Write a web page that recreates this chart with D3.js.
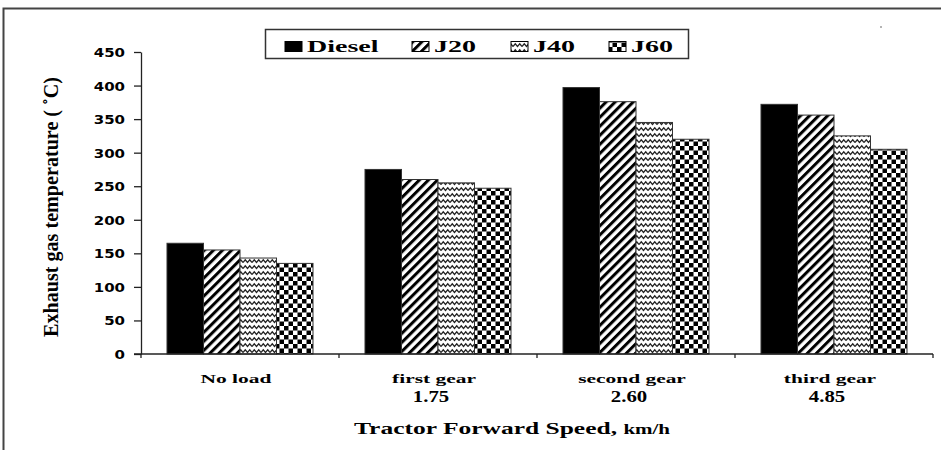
<!DOCTYPE html>
<html>
<head>
<meta charset="utf-8">
<script src="https://cdn.jsdelivr.net/npm/d3@7/dist/d3.min.js"></script>
<style>
  html, body { margin: 0; padding: 0; background: #fff; }
  svg { display: block; }
</style>
</head>
<body>
<svg id="chart"></svg>
<script>
// data
var categories = ["No load", "first gear", "second gear", "third gear"];
var speeds = ["", "1.75", "2.60", "4.85"];
var fuels = ["Diesel", "J20", "J40", "J60"];
var diesel = [165, 275, 397, 372];
var j20 = [155, 260, 376, 356];
var j40 = [143, 255, 345, 325];
var j60 = [135, 247, 320, 305];
var yTicks = [0, 50, 100, 150, 200, 250, 300, 350, 400, 450];

var series = { Diesel: diesel, J20: j20, J40: j40, J60: j60 };
var rows = [];
categories.forEach(function (c, i) {
  fuels.forEach(function (f) { rows.push({ cat: c, fuel: f, value: series[f][i] }); });
});

var width = 941, height = 450;
var svg = d3.select("#chart").attr("width", width).attr("height", height);
var serif = "'Liberation Serif', 'Times New Roman', serif";
var sans = "'DejaVu Sans', Verdana, sans-serif";

// patterns
var defs = svg.append("defs");
var p20 = defs.append("pattern").attr("id", "pat-J20").attr("patternUnits", "userSpaceOnUse")
  .attr("width", 6.4).attr("height", 6.4).attr("patternTransform", "rotate(45)");
p20.append("rect").attr("width", 6.4).attr("height", 6.4).attr("fill", "#fff");
p20.append("rect").attr("width", 3).attr("height", 6.4).attr("fill", "#000");

var p40 = defs.append("pattern").attr("id", "pat-J40").attr("patternUnits", "userSpaceOnUse")
  .attr("width", 9).attr("height", 6);
p40.append("rect").attr("width", 9).attr("height", 6).attr("fill", "#fff");
p40.append("path").attr("d", "M0,4.5 L2.25,1.8 L4.5,4.5 L6.75,1.8 L9,4.5")
  .attr("fill", "none").attr("stroke", "#222").attr("stroke-width", 1.2);

var p60 = defs.append("pattern").attr("id", "pat-J60").attr("patternUnits", "userSpaceOnUse")
  .attr("width", 9).attr("height", 9).attr("x", 167).attr("y", 2);
p60.append("rect").attr("width", 9).attr("height", 9).attr("fill", "#fff");
p60.append("rect").attr("width", 4.5).attr("height", 4.5).attr("fill", "#000");
p60.append("rect").attr("x", 4.5).attr("y", 4.5).attr("width", 4.5).attr("height", 4.5).attr("fill", "#000");

var fillOf = { Diesel: "#000", J20: "url(#pat-J20)", J40: "url(#pat-J40)", J60: "url(#pat-J60)" };

// outer frame
svg.append("path").attr("d", "M3.5,450 L3.5,8.5 L941,8.5")
  .attr("fill", "none").attr("stroke", "#444").attr("stroke-width", 2);
svg.append("circle").attr("cx", 881).attr("cy", 27).attr("r", 0.8).attr("fill", "#555");

// scales
var x0 = d3.scaleBand().domain(categories).range([141, 933]).paddingInner(0.2626).paddingOuter(0.1313);
var xb = d3.scaleBand().domain(categories).range([141, 933]);
var x1 = d3.scaleBand().domain(fuels).range([0, x0.bandwidth()]);
var y = d3.scaleLinear().domain([0, 450]).range([354, 52]);

// bars
svg.append("g").selectAll("rect").data(rows).enter().append("rect")
  .attr("x", function (d) { return x0(d.cat) + x1(d.fuel); })
  .attr("y", function (d) { return y(d.value); })
  .attr("width", x1.bandwidth())
  .attr("height", function (d) { return y(0) - y(d.value); })
  .attr("fill", function (d) { return fillOf[d.fuel]; })
  .attr("stroke", "#333").attr("stroke-width", 1);

// y axis
var yAxis = svg.append("g").attr("transform", "translate(141,0)")
  .call(d3.axisLeft(y).tickValues(yTicks).tickSize(7).tickSizeOuter(0));
yAxis.select(".domain").attr("stroke", "#222").attr("stroke-width", 1.3);
yAxis.selectAll(".tick line").attr("stroke", "#222").attr("stroke-width", 1.3);
yAxis.selectAll(".tick text")
  .attr("x", 0).attr("dy", "0.36em")
  .attr("transform", "translate(-16,0) scale(1.2,1)")
  .attr("font-family", sans).attr("font-weight", "bold").attr("font-size", 12.5).attr("fill", "#000");

// x axis line with boundary ticks
var xAxis = svg.append("g");
xAxis.append("line").attr("x1", 134).attr("x2", 933).attr("y1", y(0)).attr("y2", y(0))
  .attr("stroke", "#222").attr("stroke-width", 1.3);
var bounds = categories.map(function (c) { return xb(c); }).concat([xb.range()[1]]);
xAxis.selectAll(".bt").data(bounds).enter().append("line")
  .attr("x1", function (d) { return d; }).attr("x2", function (d) { return d; })
  .attr("y1", y(0)).attr("y2", y(0) + 4)
  .attr("stroke", "#222").attr("stroke-width", 1.3);

// category labels
function stretched(g, x, yy, txt, sx, font, size) {
  return g.append("text").attr("transform", "translate(" + x + "," + yy + ") scale(" + sx + ",1)")
    .attr("text-anchor", "middle").attr("font-family", font).attr("font-weight", "bold")
    .attr("font-size", size).attr("fill", "#000").text(txt);
}
var labels = svg.append("g");
categories.forEach(function (c, i) {
  var cx = x0(c) + x0.bandwidth() / 2 - 4;
  stretched(labels, cx, 383, c, 1.65, serif, 13);
  if (speeds[i]) stretched(labels, cx - 3, 402, speeds[i], 1.3, serif, 16);
});

// x title
var xt = svg.append("text").attr("transform", "translate(512,434) scale(1.5,1)")
  .attr("text-anchor", "middle").attr("font-family", serif).attr("font-weight", "bold").attr("fill", "#000");
xt.append("tspan").attr("font-size", 17).text("Tractor Forward Speed, ");
xt.append("tspan").attr("font-size", 14).text("km/h");

// y title
svg.append("text").attr("transform", "translate(58,207) scale(1.35,1) rotate(-90)")
  .attr("text-anchor", "middle").attr("font-family", serif).attr("font-weight", "bold")
  .attr("font-size", 15).attr("fill", "#000")
  .attr("textLength", 260).attr("lengthAdjust", "spacingAndGlyphs")
  .text("Exhaust gas temperature ( \u02DAC)");

// legend
var legend = svg.append("g");
legend.append("rect").attr("x", 265.5).attr("y", 29.5).attr("width", 423).attr("height", 29)
  .attr("fill", "#fff").attr("stroke", "#333").attr("stroke-width", 1.5);
var legendX = [285, 412, 511, 609];
fuels.forEach(function (f, i) {
  legend.append("rect").attr("x", legendX[i]).attr("y", 41.5).attr("width", 17).attr("height", 10)
    .attr("fill", fillOf[f]).attr("stroke", "#000").attr("stroke-width", 1);
  legend.append("text").attr("transform", "translate(" + (legendX[i] + 22) + ",52) scale(1.75,1)")
    .attr("font-family", serif).attr("font-weight", "bold").attr("font-size", 16).attr("fill", "#000")
    .text(f);
});
</script>
</body>
</html>
